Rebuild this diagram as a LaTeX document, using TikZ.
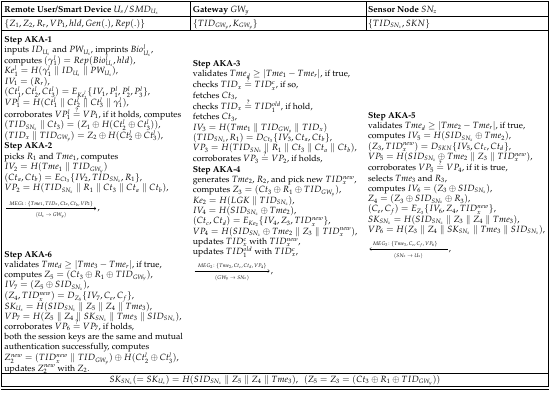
\documentclass[tikz,border=0pt]{standalone}
\usepackage[T1]{fontenc}
\usepackage{mathpazo}
\usepackage{amsmath}
\usetikzlibrary{calc,arrows.meta}
\DeclareMathSizes{8.7}{9.0}{6.3}{4.5}
\newcommand{\pl}{\parallel}
\newcommand{\fsz}{\fontsize{8.7}{10.3}\selectfont\lineskiplimit=-100pt\relax}
\newcommand{\fszA}{\fontsize{8.7}{10.5}\selectfont\lineskiplimit=-100pt\relax}
\newcommand{\fszB}{\fontsize{8.7}{10.2}\selectfont\lineskiplimit=-100pt\relax}
\newcommand{\labfont}{\fontsize{5.25}{6}\selectfont}
\tikzset{
  blk/.style={anchor=north west, inner sep=0pt, align=left, font=\fsz},
  hdr/.style={anchor=base west, inner sep=0pt, font=\fsz},
  msglab/.style={anchor=base west, inner sep=0pt, font=\labfont},
  msgsub/.style={anchor=base, inner sep=0pt, font=\labfont},
  comma/.style={anchor=base west, inner sep=0pt, font=\fsz},
  msgarrow/.style={line width=0.35pt},
  rulethin/.style={line width=0.45pt},
  rulethick/.style={line width=1.1pt},
}
\begin{document}
\begin{tikzpicture}[x=1pt,y=-1pt]
\useasboundingbox (0,0) rectangle (550,397);
% table rules
\draw[rulethick] (0.9,1.6) -- (549.1,1.6);
\draw[rulethin] (1,16) -- (549,16);
\draw[rulethin] (1,30) -- (549,30);
\draw[rulethin] (1,373) -- (549,373);
\draw[rulethin] (1,386) -- (549,386);
\draw[rulethick] (0.9,389.6) -- (549.1,389.6);
\draw[rulethin] (1.5,1.6) -- (1.5,386);
\draw[rulethin] (548.5,1.6) -- (548.5,386);
\draw[rulethin] (190.5,1.6) -- (190.5,30);
\draw[rulethin] (366,1.6) -- (366,30);
% header
\node[hdr] (h1) at (4.3,12) {\textbf{Remote User/Smart Device} $U_s/SMD_{U_s}$};
\node[hdr] (h2) at (192.7,12) {\textbf{Gateway} $GW_y$};
\node[hdr] (h3) at (367.8,12) {\textbf{Sensor Node} $SN_z$};
\node[hdr] (k1) at (4.3,26) {$\{Z_1, Z_2, R_r, VP_1, hld, Gen(.), Rep(.)\}$};
\node[hdr] (k2) at (192.7,26) {$\{TID_{GW_y}, K_{GW_y}\}$};
\node[hdr] (k3) at (367.8,26) {$\{TID_{SN_z}, SKN\}$};
% user: AKA-1, AKA-2
\node[blk, font=\fszA] (aka1) at (4.3,36) {\textbf{Step AKA-1}\\
inputs $ID_{U_s}$ and $PW_{U_s}$, imprints $Bio^l_{U_s}$,\\
computes $(\gamma^l_1)=Rep(Bio^l_{U_s},hld)$,\\
$Ke^l_1=H(\gamma^l_1\pl ID_{U_s}\pl PW_{U_s})$,\\
$IV_1=(R_r)$,\\
$(Ct^l_1,Ct^l_2,Ct^l_3)=E_{Ke^l_1}\{IV_1,P^l_1,P^l_2,P^l_3\}$,\\
$VP^l_1=H(Ct^l_1\pl Ct^l_2\pl Ct^l_3\pl\gamma^l_1)$,\\[1.5pt]
corroborates $VP^l_1\stackrel{?}{=}VP_1$, if it holds, computes\\
$(TID_{SN_z}\pl Ct_3)=(Z_1\oplus H(Ct^l_2\oplus Ct^l_3))$,\\
$(TID_x\pl TID_{GW_y})=Z_2\oplus H(Ct^l_2\oplus Ct^l_3)$,\\
\textbf{Step AKA-2}\\
picks $R_1$ and $Tme_1$, computes\\
$IV_2=H(Tme_1\pl TID_{GW_y})$\\
$(Ct_a,Ct_b)=E_{Ct_3}\{IV_2,TID_{SN_z},R_1\}$,\\
$VP_2=H(TID_{SN_z}\pl R_1\pl Ct_3\pl Ct_a\pl Ct_b)$,};
% message 1 (U -> GW)
\node[msglab] (m1) at (9,205) {$MEG_1\!:\{Tme_1, TID_x, Ct_a, Ct_b, VP_2\}$};
\path (m1.base west) ++(-3,3.5) coordinate (m1s);
\path (m1.base east) ++(3,3.5) coordinate (m1e);
\draw[msgarrow,-{To[length=2pt,width=3.4pt]}] (m1s) -- (m1e);
\node[msgsub] (s1) at ($(m1s)!0.5!(m1e)+(0,8)$) {$(U_s\rightarrow GW_y)$};
\node[comma] (c1) at ($(m1e)+(1.2,2.3)$) {,};
% user: AKA-6
\node[blk, font=\fszB] (aka6) at (4.3,251) {\textbf{Step AKA-6}\\
validates $Tme_d\geq|Tme_3-Tme_r|$, if true,\\
computes $Z_5=(Ct_3\oplus R_1\oplus TID_{GW_y})$,\\
$IV_7=(Z_5\oplus SID_{SN_z})$,\\[0.8pt]
$(Z_4,TID^{new}_x)=D_{Z_5}\{IV_7,C_e,C_f\}$,\\
$SK_{U_s}=H(SID_{SN_z}\pl Z_5\pl Z_4\pl Tme_3)$,\\
$VP_7=H(Z_5\pl Z_4\pl SK_{SN_z}\pl Tme_3\pl SID_{SN_z})$,\\
corroborates $VP_6\stackrel{?}{=}VP_7$, if holds,\\
both the session keys are the same and mutual\\
authentication successfully, computes\\[0.8pt]
$Z^{new}_2=(TID^{new}_x\pl TID_{GW_y})\oplus H(Ct^l_2\oplus Ct^l_3)$,\\
updates $Z^{new}_2$ with $Z_2$.};
% gateway: AKA-3, AKA-4
\node[blk] (aka3) at (192.7,60) {\textbf{Step AKA-3}\\
validates $Tme_d\geq|Tme_1-Tme_r|$, if true,\\[1pt]
checks $TID_x\stackrel{?}{=}TID^c_x$, if so,\\
fetches $Ct_3$,\\[1pt]
checks $TID_x\stackrel{?}{=}TID^{old}_1$, if hold,\\
fetches $Ct_3$,\\
$IV_3=H(Tme_1\pl TID_{GW_y}\pl TID_x)$\\
$(TID_{SN_z},R_1)=D_{Ct_3}\{IV_3,Ct_a,Ct_b\}$,\\
$VP_3=H(TID_{SN_z}\pl R_1\pl Ct_3\pl Ct_a\pl Ct_b)$,\\[1pt]
corroborates $VP_3\stackrel{?}{=}VP_2$, if holds,\\
\textbf{Step AKA-4}\\
generates $Tme_2$, $R_2$, and pick new $TID^{new}_x$,\\
computes $Z_3=(Ct_3\oplus R_1\oplus TID_{GW_y})$,\\
$Ke_2=H(LGK\pl TID_{SN_z})$,\\
$IV_4=H(SID_{SN_z}\oplus Tme_2)$,\\
$(Ct_c,Ct_d)=E_{Ke_2}\{IV_4,Z_3,TID^{new}_x\}$,\\
$VP_4=H(SID_{SN_z}\oplus Tme_2\pl Z_3\pl TID^{new}_x)$,\\
updates $TID^c_x$ with $TID^{new}_x$,\\
updates $TID^{old}_1$ with $TID^c_x$,};
% message 2 (GW -> SN)
\node[msglab] (m2) at (197.5,267.5) {$MEG_2\!:\{Tme_2, Ct_c, Ct_d, VP_4\}$};
\path (m2.base west) ++(-3,3.5) coordinate (m2s);
\path (m2.base east) ++(3,3.5) coordinate (m2e);
\draw[msgarrow,-{To[length=2pt,width=3.4pt]}] (m2s) -- (m2e);
\node[msgsub] (s2) at ($(m2s)!0.5!(m2e)+(0,8)$) {$(GW_y\rightarrow SN_z)$};
\node[comma] (c2) at ($(m2e)+(1.2,2.3)$) {,};
% sensor: AKA-5
\node[blk] (aka5) at (367.8,112) {\textbf{Step AKA-5}\\
validates $Tme_d\geq|Tme_2-Tme_r|$, if true,\\
computes $IV_5=H(SID_{SN_z}\oplus Tme_2)$,\\
$(Z_3,TID^{new}_x)=D_{SKN}\{IV_5,Ct_c,Ct_d\}$,\\
$VP_5=H(SID_{SN_z}\oplus Tme_2\pl Z_3\pl TID^{new}_x)$,\\[1pt]
corroborates $VP_5\stackrel{?}{=}VP_4$, if it is true,\\
selects $Tme_3$ and $R_3$,\\
computes $IV_6=(Z_3\oplus SID_{SN_z})$,\\
$Z_4=(Z_3\oplus SID_{SN_z}\oplus R_3)$,\\
$(C_e,C_f)=E_{Z_3}\{IV_6,Z_4,TID^{new}_x\}$,\\
$SK_{SN_z}=H(SID_{SN_z}\pl Z_3\pl Z_4\pl Tme_3)$,\\
$VP_6=H(Z_3\pl Z_4\pl SK_{SN_z}\pl Tme_3\pl SID_{SN_z})$,};
% message 3 (SN -> U)
\node[msglab] (m3) at (372.5,245.5) {$MEG_3\!:\{Tme_3, C_e, C_f, VP_6\}$};
\path (m3.base west) ++(-3,3.5) coordinate (m3s);
\path (m3.base east) ++(10,3.5) coordinate (m3e);
\draw[msgarrow,{To[length=2pt,width=3.4pt]}-] (m3s) -- (m3e);
\node[msgsub] (s3) at ($(m3s)!0.5!(m3e)+(0,8)$) {$(SN_z\rightarrow U_s)$};
\node[comma] (c3) at ($(m3e)+(1.2,2.3)$) {,};
% bottom row
\node[anchor=base, inner sep=0pt, font=\fsz] (sk) at (275,382.5) {$SK_{SN_z}(=SK_{U_s})=H(SID_{SN_z}\pl Z_5\pl Z_4\pl Tme_3),\ \ (Z_5=Z_3=(Ct_3\oplus R_1\oplus TID_{GW_y}))$};
\end{tikzpicture}
\end{document}
